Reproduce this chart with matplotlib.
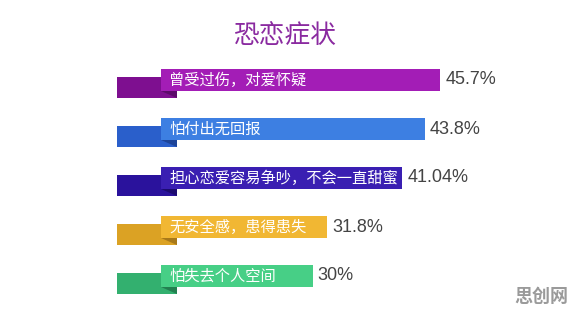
import matplotlib.pyplot as plt
from matplotlib.patches import Polygon

plt.rcParams['font.family'] = ['Noto Sans CJK SC', 'DejaVu Sans']

labels = ['曾受过伤，对爱怀疑', '怕付出无回报', '担心恋爱容易争吵，不会一直甜蜜',
          '无安全感，患得患失', '怕失去个人空间']
values = [45.7, 43.8, 41.04, 31.8, 30]
value_labels = ['45.7%', '43.8%', '41.04%', '31.8%', '30%']
bar_colors = ['#a31db6', '#3d7fe2', '#3a1fb2', '#f1b733', '#47cf86']
tab_colors = ['#7e0f90', '#2a5fcb', '#2a129c', '#dba224', '#33b06f']
fold_colors = ['#5c0a6a', '#1d4498', '#1c0b70', '#a8791a', '#238050']

fig = plt.figure(figsize=(5.76, 3.16), dpi=100)
ax = fig.add_axes([0, 0, 1, 1])
x0, px = 68.4, 8.14  # pixel of value 0, pixels per percent
ax.set_xlim(-x0 / px, (576 - x0) / px)
ax.set_ylim((316 - 80) / 49, -80 / 49)
ax.axis('off')

def xv(p):
    return (p - x0) / px

base = xv(161)
h = 0.43
off = 0.15
tab_l, tab_r = xv(117), xv(177)
for i, (lab, v, vl) in enumerate(zip(labels, values, value_labels)):
    # back ribbon tab
    ax.add_patch(plt.Rectangle((tab_l, i - h / 2 + off), tab_r - tab_l, h,
                               color=tab_colors[i], lw=0, zorder=1))
    # fold triangle
    ax.add_patch(Polygon([(base, i + h / 2), (tab_r, i + h / 2), (tab_r, i + h / 2 + off)],
                         closed=True, color=fold_colors[i], lw=0, zorder=2))
    ax.barh(i, v - base, height=h, left=base, color=bar_colors[i], zorder=3)
    ax.text(xv(169), i, lab, color='white', fontsize=11, va='center', ha='left', zorder=4)
    ax.text(v + 0.6, i, vl, color='#444444', fontsize=13, va='center', ha='left',
            family=['Liberation Sans', 'DejaVu Sans'], zorder=4)

fig.text(285 / 576, 1 - 36 / 316, '恐恋症状', color='#8a2aa0', fontsize=18.5,
         ha='center', va='center')
fig.text(541 / 576, 1 - 296 / 316, '思创网', color='#9a9a9a', fontsize=13,
         fontweight='bold', ha='center', va='center')

fig.savefig('out.png', dpi=100)
